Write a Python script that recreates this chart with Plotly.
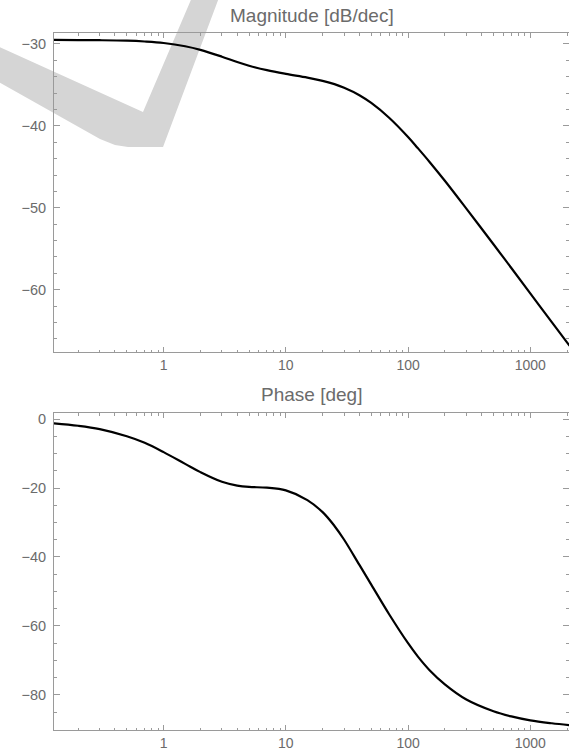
import plotly.graph_objects as go

# ---- data ----
freq = [0.125, 0.2, 0.3, 0.5, 0.7, 1, 1.5, 2, 3, 4, 5, 7, 10, 15, 20, 25, 30, 40,
        50, 70, 100, 120, 150, 200, 300, 500, 700, 1000, 1500, 2100]
magnitude_db = [-29.50, -29.52, -29.54, -29.60, -29.70, -29.88, -30.28, -30.72, -31.55,
                -32.20, -32.65, -33.20, -33.65, -34.10, -34.50, -34.90, -35.35, -36.25,
                -37.20, -39.00, -41.35, -42.70, -44.40, -46.70, -50.10, -54.45, -57.35,
                -60.45, -63.95, -66.85]
phase_deg = [-1.23, -1.96, -2.93, -5.0, -6.9, -9.6, -13.0, -15.4, -18.2, -19.3, -19.7,
             -19.9, -20.7, -23.5, -27.0, -31.0, -35.0, -42.3, -48.0, -56.6, -65.0, -68.8,
             -72.8, -76.9, -81.3, -84.7, -86.2, -87.35, -88.2, -88.75]

x_major = [1, 10, 100, 1000]
x_major_text = ["1", "10", "100", "1000"]
x_minor = [m * d for d in (0.1, 1, 10, 100) for m in range(2, 10)] + [2000]

mag_title = "Magnitude [dB/dec]"
phase_title = "Phase [deg]"

FRAME = "#9a9a9a"
LABEL = "#6b6b6b"
FONT = "Liberation Sans, Arial, Helvetica, sans-serif"

W, H = 569, 756
ML, MR, MT, MB = 54, 0, 33, 26
PW, PH = W - ML - MR, H - MT - MB


def py(ypx):
    return (H - MB - ypx) / PH


def px(xpx):
    return (xpx - ML) / PW


fig = go.Figure()
fig.add_trace(go.Scatter(x=freq, y=magnitude_db, mode="lines",
                         line=dict(color="black", width=2.2, shape="spline", smoothing=1),
                         xaxis="x", yaxis="y", showlegend=False))
fig.add_trace(go.Scatter(x=freq, y=phase_deg, mode="lines",
                         line=dict(color="black", width=2.2, shape="spline", smoothing=1),
                         xaxis="x2", yaxis="y2", showlegend=False))

xcommon = dict(type="log", range=[-0.897, 3.317], tickmode="array",
               tickvals=x_major, ticktext=x_major_text,
               ticks="inside", ticklen=5, tickwidth=1, tickcolor=FRAME,
               showline=True, linecolor=FRAME, linewidth=1, mirror="allticks",
               showgrid=False, zeroline=False,
               tickfont=dict(family=FONT, size=14, color=LABEL),
               minor=dict(tickmode="array", tickvals=x_minor, ticks="inside",
                          ticklen=2.5, tickwidth=1, tickcolor=FRAME, showgrid=False))
ycommon = dict(ticks="inside", ticklen=6, tickwidth=1, tickcolor=FRAME,
               showline=True, linecolor=FRAME, linewidth=1, mirror="allticks",
               showgrid=False, zeroline=False, ticklabelstandoff=4,
               tickfont=dict(family=FONT, size=14.5, color=LABEL))

top_lo = py(352)
bot_hi = py(413)

fig.update_layout(
    width=W, height=H,
    margin=dict(l=ML, r=MR, t=MT, b=MB),
    paper_bgcolor="white", plot_bgcolor="rgba(0,0,0,0)",
    xaxis=dict(domain=[0, 1], anchor="y", **xcommon),
    yaxis=dict(domain=[top_lo, 1], anchor="x", range=[-67.6, -28.66],
               tickvals=[-30, -40, -50, -60],
               minor=dict(dtick=2, ticks="inside", ticklen=3, tickwidth=1,
                          tickcolor=FRAME, showgrid=False),
               **ycommon),
    xaxis2=dict(domain=[0, 1], anchor="y2", **xcommon),
    yaxis2=dict(domain=[0, bot_hi], anchor="x2", range=[-90.15, 1.74],
                tickvals=[0, -20, -40, -60, -80],
                minor=dict(dtick=5, ticks="inside", ticklen=3, tickwidth=1,
                           tickcolor=FRAME, showgrid=False),
                **ycommon),
    annotations=[
        dict(text=mag_title, xref="paper", yref="paper", x=0.5, y=py(16),
             xanchor="center", yanchor="middle", showarrow=False,
             font=dict(family=FONT, size=19, color=LABEL)),
        dict(text=phase_title, xref="paper", yref="paper", x=0.5, y=py(394),
             xanchor="center", yanchor="middle", showarrow=False,
             font=dict(family=FONT, size=19, color=LABEL)),
    ],
)

# light gray watermark in the background (decoration)
wm = [(-5, 45), (143, 112), (193, -5), (220, -5), (163, 147), (128, 147),
      (115, 145), (100, 139), (-5, 80)]
path = "M " + " L ".join(f"{px(a):.4f},{py(b):.4f}" for a, b in wm) + " Z"
fig.add_shape(type="path", path=path, xref="paper", yref="paper",
              fillcolor="#d5d5d5", line=dict(width=0), layer="below")

fig.write_html("out.html")
